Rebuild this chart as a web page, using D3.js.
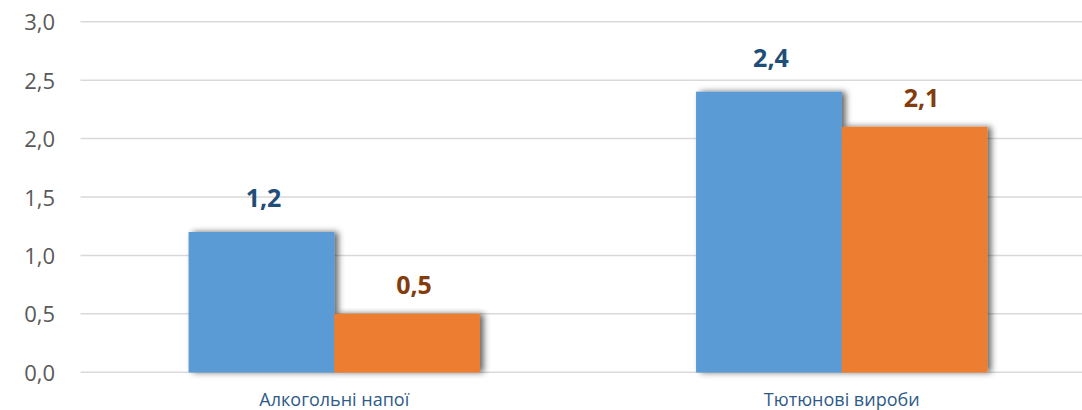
<!DOCTYPE html>
<html><head><meta charset="utf-8">
<script src="https://cdn.jsdelivr.net/npm/d3@7"></script>
<style>body{margin:0;background:#fff;} svg{display:block;}</style>
</head><body>
<svg id="c" width="1082" height="410"></svg>
<script>
const categories = ["Алкогольні напої", "Тютюнові вироби"];
const seriesNames = ["s1", "s2"];
const series1 = [1.2, 2.4];
const series2 = [0.5, 2.1];
const yTicks = [0, 0.5, 1.0, 1.5, 2.0, 2.5, 3.0];
const barColors = ["#5b9bd5", "#ed7d31"];
const labelColors = ["#1f4e79", "#843c0c"];

(function(){
const svg = d3.select("#c");
const W = 1082;
const mLeft = 80.5, mRight = 1095.5, mTop = 21.7, mBottom = 372.3;

const defs = svg.append("defs");
const f = defs.append("filter").attr("id","sh").attr("x","-10%").attr("y","-10%").attr("width","130%").attr("height","120%");
f.append("feDropShadow").attr("dx",4).attr("dy",0).attr("stdDeviation",3).attr("flood-color","#000").attr("flood-opacity",0.6);

const x0 = d3.scaleBand().domain(categories).range([mLeft, mRight]).paddingInner(0.4265).paddingOuter(0.2133);
const x1 = d3.scaleBand().domain(seriesNames).range([0, x0.bandwidth()]).padding(0);
const y = d3.scaleLinear().domain([0, 3]).range([mBottom, mTop]);

svg.append("g").selectAll("line").data(yTicks).join("line")
  .attr("x1", mLeft).attr("x2", W)
  .attr("y1", d => y(d)).attr("y2", d => y(d))
  .attr("stroke", "#d9d9d9").attr("stroke-width", 1.5);

const fmt = d => d.toFixed(1).replace(".", ",");
svg.append("g").selectAll("text").data(yTicks).join("text")
  .attr("x", 55).attr("y", d => y(d) + 8.5)
  .attr("text-anchor", "end")
  .attr("font-family", "'Open Sans', sans-serif").attr("font-size", 22)
  .attr("fill", "#595959").text(fmt);

const data = categories.map((c, i) => ({cat: c, vals: [series1[i], series2[i]]}));

const g = svg.append("g");
[true, false].forEach(withShadow => {
  data.forEach(d => {
    d.vals.forEach((v, j) => {
      const r = g.append("rect")
        .attr("x", x0(d.cat) + x1(seriesNames[j]))
        .attr("y", y(v))
        .attr("width", x1.bandwidth())
        .attr("height", y(0) - y(v))
        .attr("fill", barColors[j]);
      if (withShadow) r.attr("filter", "url(#sh)");
    });
  });
});

const lblDx = [2, 7], lblDy = [-25, -19.5];
data.forEach(d => {
  d.vals.forEach((v, j) => {
    svg.append("text")
      .attr("x", x0(d.cat) + x1(seriesNames[j]) + x1.bandwidth()/2 + lblDx[j])
      .attr("y", y(v) + lblDy[j])
      .attr("text-anchor", "middle")
      .attr("font-family", "'Open Sans', sans-serif").attr("font-weight", "bold").attr("font-size", 25)
      .attr("fill", labelColors[j]).text(fmt(v));
  });
});

svg.append("g").selectAll("text").data(categories).join("text")
  .attr("x", d => x0(d) + x0.bandwidth()/2)
  .attr("y", 406)
  .attr("text-anchor", "middle")
  .attr("font-family", "'Open Sans', sans-serif").attr("font-size", 18)
  .attr("fill", "#2e5a88").text(d => d);
})();
</script>
</body></html>
